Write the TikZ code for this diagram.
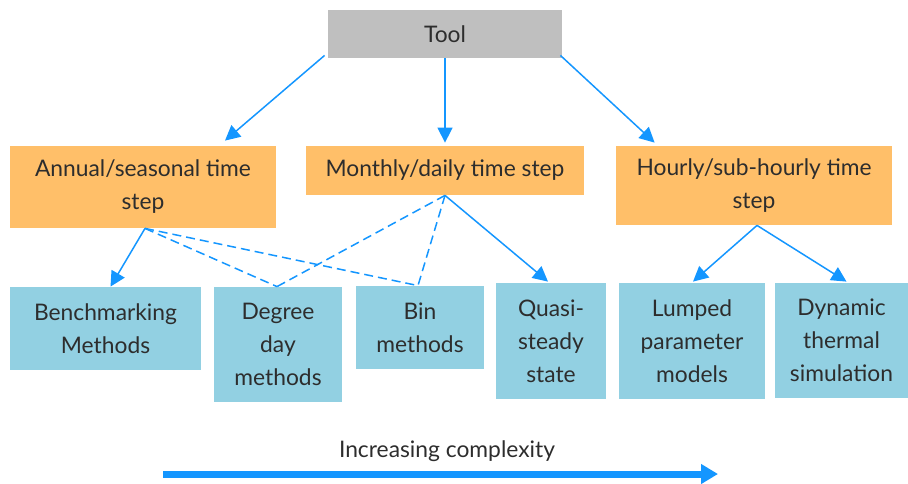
\documentclass[tikz,border=0pt]{standalone}
\usepackage{fontspec}
\setmainfont{Lato}
\usepackage{xcolor}
\usepackage{tikz}
\usetikzlibrary{calc}
\usetikzlibrary{arrows.meta}
\definecolor{Cgray}{RGB}{191,191,191}
\definecolor{Corange}{RGB}{255,191,105}
\definecolor{Cblue}{RGB}{146,208,226}
\definecolor{Carrow}{RGB}{ 20,150,255}
\definecolor{Ctext}{RGB}{ 45, 45, 45}

\begin{document}
\begin{tikzpicture}[x=0.5pt, y=-0.5pt,
    box/.style={inner sep=0pt, align=center, text=Ctext,
                font=\fontsize{11.4}{16.5}\selectfont},
    toolbox/.style={box, fill=Cgray},
    stepbox/.style={box, fill=Corange},
    methodbox/.style={box, fill=Cblue},
    link/.style={Carrow, line width=0.75pt, -{Triangle[length=7.5pt, width=7.5pt]}},
    dashlink/.style={Carrow, line width=0.75pt, dash pattern=on 4.5pt off 2.5pt}]

    %% Frame of the picture
    \useasboundingbox (0, 0) rectangle (908, 483);

    %% --- Top: the tool ---
    \node[toolbox, minimum width=117pt, minimum height=24pt] (tool) at (445, 34) {Tool};

    %% --- Time step boxes ---
    \node[stepbox, minimum width=133pt, minimum height=41pt] (annual) at (143, 187)
        {Annual/seasonal time\\step};
    \node[stepbox, minimum width=139pt, minimum height=24.5pt] (monthly) at (445, 170.5)
        {Monthly/daily time step};
    \node[stepbox, minimum width=138pt, minimum height=39.5pt] (hourly) at (754, 185.5)
        {Hourly/sub-hourly time\\step};

    %% --- Method boxes ---
    \node[methodbox, minimum width=95.5pt, minimum height=41.5pt] (bench) at (105.5, 328.5)
        {Benchmarking\\Methods};
    \node[methodbox, minimum width=64pt, minimum height=57.5pt] (degree) at (278, 344.5)
        {Degree\\day\\methods};
    \node[methodbox, minimum width=64pt, minimum height=41.5pt] (bin) at (420, 327.5)
        {Bin\\methods};
    \node[methodbox, minimum width=55pt, minimum height=58pt] (quasi) at (551, 341)
        {Quasi-\\steady\\state};
    \node[methodbox, minimum width=73pt, minimum height=58pt] (lumped) at (692, 341)
        {Lumped\\parameter\\models};
    \node[methodbox, minimum width=66.5pt, minimum height=57.5pt] (dynamic) at (841.5, 340.5)
        {Dynamic\\thermal\\simulation};

    %% --- Tool to time steps ---
    \draw[link] ($(tool.south west)+(-3,-3)$) -- ($(annual.north)+(82,-5)$);
    \draw[link] (tool.south) -- ($(monthly.north)+(0,-3)$);
    \draw[link] ($(tool.south east)+(-2,-3)$) -- ($(hourly.north west)+(39,-3)$);

    %% --- Time steps to methods ---
    \draw[link] ($(annual.south)+(2,0)$) -- ($(bench.north)+(5,0)$);
    \draw[dashlink] ($(annual.south)+(2,0)$) -- ($(degree.north)+(-1,0)$);
    \draw[dashlink] ($(annual.south)+(2,0)$) -- ($(bin.north)+(-2,0)$);
    \draw[dashlink] (monthly.south) -- ($(degree.north)+(-1,0)$);
    \draw[dashlink] (monthly.south) -- ($(bin.north)+(-2,0)$);
    \draw[link] (monthly.south) -- ($(quasi.north)+(-3,-1)$);
    \draw[link] ($(hourly.south)+(3,0)$) -- ($(lumped.north)+(1,-1)$);
    \draw[link] ($(hourly.south)+(3,0)$) -- ($(dynamic.north)+(5,-1)$);

    %% --- Complexity arrow ---
    \coordinate (low) at (163, 474);
    \coordinate (high) at (718, 474);
    \draw[Carrow, line width=3.5pt, -{Triangle[length=8.5pt, width=9.5pt]}] (low) -- (high);
    \node[box] (complexity) at (447, 451) {Increasing complexity};

\end{tikzpicture}
\end{document}
